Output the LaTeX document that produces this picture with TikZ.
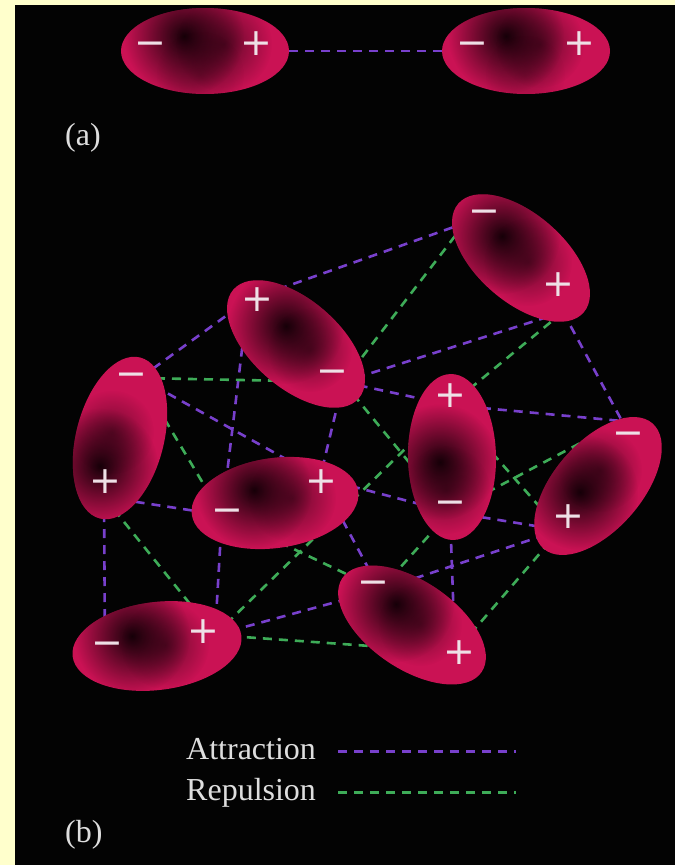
\documentclass[tikz,border=0pt]{standalone}
\usepackage{fontspec}
\setmainfont{Liberation Serif}
\newfontfamily\signfont{DejaVu Sans}
\usetikzlibrary{shapes.geometric,fadings}

\definecolor{paper}{RGB}{255,255,204}
\definecolor{panel}{RGB}{3,3,3}
\definecolor{dipc}{RGB}{202,18,84}
\definecolor{blobc}{RGB}{14,0,5}
\definecolor{attrc}{RGB}{120,64,204}
\definecolor{repc}{RGB}{62,172,88}
\definecolor{inkc}{RGB}{222,222,222}
\definecolor{signc}{RGB}{238,224,230}

\tikzfading[name=soft, inner color=transparent!0, outer color=transparent!100]

\tikzset{
  dipole/.style={ellipse, fill=dipc, inner sep=0pt, outer sep=0pt,
                 minimum width=166pt, minimum height=88pt},
  sgn/.style={text=signc, font=\signfont\fontsize{38}{38}\selectfont,
              inner sep=0pt, text height=0.64em, text depth=0pt},
  legendtext/.style={text=inkc, font=\fontsize{32}{32}\selectfont,
                     inner sep=0pt, anchor=base west},
  attr/.style={draw=attrc, line width=2.6pt, dash pattern=on 9pt off 7pt},
  rep/.style={draw=repc, line width=2.6pt, dash pattern=on 9pt off 7pt},
  smudge/.style={fill=blobc, path fading=soft},
}

% #1 node options, #2 name, #3 x, #4 y, #5 rotation
\newcommand\dipole[5][]{\node[dipole, rotate=#5, #1] (#2) at (#3,#4) {};}
% dark smudges clipped to an ellipse: x, y, rotation, a, b, list u/v/r/opacity
\newcommand\dipshade[6]{%
  \begin{scope}
    \clip[shift={(#1,#2)}, rotate=#3] (0,0) ellipse [x radius=#4, y radius=#5];
    \foreach \u/\v/\r/\o in {#6}
      \fill[smudge, fill opacity=\o] (\u,\v) circle [radius=\r];
  \end{scope}}

\begin{document}
\begin{tikzpicture}[x=1pt, y=-1pt]
\useasboundingbox (0,0) rectangle (675,865);
\fill[paper] (0,0) rectangle (675,865);
\fill[panel] (15,5) rectangle (675,865);

% ---------- (a) a pair of dipoles ----------
\dipole[minimum width=168pt, minimum height=86pt]{A1}{205}{51}{0}
\dipole[minimum width=168pt, minimum height=86pt]{A2}{526}{51}{0}
\dipshade{205}{51}{0}{84}{43}{184/36/60/0.95, 224/44/48/0.55, 200/75/44/0.3}
\dipshade{526}{51}{0}{84}{43}{506/36/58/0.95, 540/44/44/0.5, 525/75/40/0.25}
\draw[attr] (A1) -- (A2);
\node[sgn] (A1neg) at (150,52) {−};
\node[sgn] (A1pos) at (256,52) {+};
\node[sgn] (A2neg) at (472,52) {−};
\node[sgn] (A2pos) at (579,52) {+};
\node[legendtext] (capa) at (65,145) {(a)};

% ---------- (b) dipoles in a liquid ----------
% charge centres used by the interaction lines
\coordinate (D1m) at (465,223); \coordinate (D1p) at (563,312);
\coordinate (D2p) at (248,300); \coordinate (D2m) at (343,382);
\coordinate (D3m) at (140,378); \coordinate (D3p) at (104,497);
\coordinate (D4p) at (320,478); \coordinate (D4m) at (222,515);
\coordinate (D5p) at (450,405); \coordinate (D5m) at (450,512);
\coordinate (D6m) at (622,421); \coordinate (D6p) at (560,530);
\coordinate (D7m) at (105,650); \coordinate (D7p) at (215,635);
\coordinate (D8m) at (380,590); \coordinate (D8p) at (455,652);

% attractions
\foreach \s/\t in {D3m/D2p, D2p/D1m, D1p/D2m, D1p/D6m, D2m/D5p, D5p/D6m,
                   D3m/D4p, D2p/D4m, D3p/D7m, D3p/D4m, D4m/D7p, D4p/D8m,
                   D4p/D5m, D5m/D8p, D6p/D8m, D5m/D6p, D7p/D8m, D2m/D4p}
  \draw[attr] (\s) -- (\t);
% repulsions
\foreach \s/\t in {D3m/D2m, D1m/D2m, D1p/D5p, D2m/D5m, D3m/D4m, D3p/D7p,
                   D4m/D8m, D5p/D6p, D6m/D5m, D5m/D8m, D6p/D8p, D7p/D8p,
                   D5p/D7p}
  \draw[rep] (\s) -- (\t);

% the dipoles
\dipole{D1}{521}{258}{-41}
\dipole{D2}{296}{344}{-41}
\dipole{D3}{120}{438}{76}
\dipole[minimum width=168pt, minimum height=90pt]{D4}{275}{503}{8}
\dipole{D5}{452}{457}{91}
\dipole{D6}{598}{486}{49}
\dipole[minimum width=170pt]{D7}{157}{646}{7}
\dipole[minimum width=168pt]{D8}{412}{625}{-34}

\dipshade{521}{258}{-41}{83}{44}{502/236/58/0.95, 528/262/44/0.5}
\dipshade{296}{344}{-41}{83}{44}{286/326/58/0.95, 310/350/42/0.5}
\dipshade{120}{438}{76}{83}{44}{100/466/58/0.95, 112/432/42/0.45}
\dipshade{275}{503}{8}{84}{45}{254/490/58/0.95, 292/498/44/0.5}
\dipshade{452}{457}{91}{83}{44}{440/462/58/0.95, 446/490/44/0.5}
\dipshade{598}{486}{49}{83}{44}{580/492/58/0.95, 600/470/42/0.5}
\dipshade{157}{646}{7}{85}{44}{132/636/58/0.95, 165/645/44/0.5}
\dipshade{412}{625}{-34}{84}{44}{396/604/58/0.95, 420/624/42/0.45}

\node[sgn] (D1neg) at (484,220) {−};  \node[sgn] (D1pos) at (558,293) {+};
\node[sgn] (D2pos) at (257,308) {+};  \node[sgn] (D2neg) at (332,380) {−};
\node[sgn] (D3neg) at (131,383) {−};  \node[sgn] (D3pos) at (105,490) {+};
\node[sgn] (D4pos) at (321,490) {+};  \node[sgn] (D4neg) at (227,519) {−};
\node[sgn] (D5pos) at (450,404) {+};  \node[sgn] (D5neg) at (450,511) {−};
\node[sgn] (D6neg) at (628,442) {−};  \node[sgn] (D6pos) at (568,525) {+};
\node[sgn] (D7neg) at (107,652) {−};  \node[sgn] (D7pos) at (203,640) {+};
\node[sgn] (D8neg) at (373,591) {−};  \node[sgn] (D8pos) at (459,661) {+};

% legend
\node[legendtext] (attrtext) at (186,759) {Attraction};
\node[legendtext] (reptext) at (186,800) {Repulsion};
\coordinate (attrA) at (338,751); \coordinate (attrB) at (516,751);
\coordinate (repA) at (338,792);  \coordinate (repB) at (516,792);
\draw[attr, line width=3pt] (attrA) -- (attrB);
\draw[rep, line width=3pt] (repA) -- (repB);
\node[legendtext] (capb) at (65,842) {(b)};
\end{tikzpicture}
\end{document}
